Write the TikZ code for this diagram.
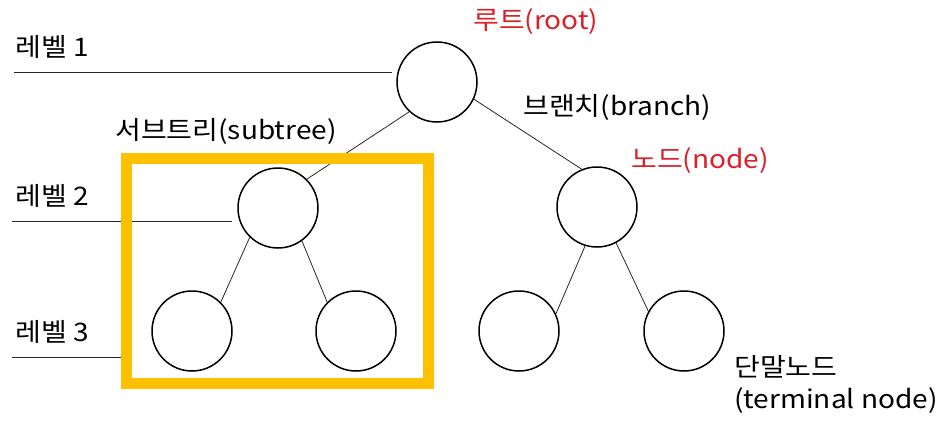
\documentclass[tikz,border=0pt]{standalone}
\usepackage{fontspec}
\setmainfont[FakeStretch=1.1]{Noto Sans CJK KR}
\usetikzlibrary{positioning}
\definecolor{labelred}{RGB}{218,32,40}
\definecolor{boxyellow}{RGB}{255,192,0}
\begin{document}
\begin{tikzpicture}[x=1pt,y=1pt,on grid,
    main node/.style={circle,draw,line width=1.5pt,minimum size=80pt,inner sep=0pt},
    label text/.style={anchor=base west,inner sep=0pt,font=\fontsize{25.5}{30}\selectfont},
    level line/.style={line width=0.9pt,black!85}]

    \useasboundingbox (0,0) rectangle (940,-428);

    % Define vertices
    \node[main node] (1) at (437,-82) {};
    \node[main node] (2) [below left=126pt and 159pt of 1] {};
    \node[main node] (3) [below right=125pt and 160pt of 1] {};
    \node[main node] (4) [below left=123pt and 86pt of 2] {};
    \node[main node] (5) [below right=123pt and 78pt of 2] {};
    \node[main node] (6) [below left=124pt and 78pt of 3] {};
    \node[main node] (7) [below right=124pt and 87pt of 3] {};

    % Draw edges
    \path[draw,line width=0.8pt,black!85]
        (1.-133) edge (2.45)
        (1.-25) edge (3.112)
        (2.-134) edge (4.45)
        (2.-54) edge (5.135)
        (3.-107) edge (6.25)
        (3.-62) edge (7.151);

    % Levels
    \node[label text] (lv1) at (15,-57) {레벨 1};
    \node[label text] (lv2) at (15,-205) {레벨 2};
    \node[label text] (lv3) at (15,-341) {레벨 3};
    \coordinate (l1) at (14,-72);
    \coordinate (l2) at (12,-221);
    \coordinate (l3) at (12,-357);
    \draw[level line] (l1) -- ++(378,0);
    \draw[level line] (l2) -- ++(220,0);
    \draw[level line] (l3) -- ++(112,0);

    % Subtree box
    \coordinate (sw) at (126.5,-383.5);
    \coordinate (ne) at (428,-158.5);
    \draw[boxyellow,line width=11pt] (sw) rectangle (ne);

    % Labels
    \node[label text,text=labelred] (root) at (473,-30) {루트(root)};
    \node[label text] (branch) at (523,-115) {브랜치(branch)};
    \node[label text] (subtree) at (115,-139) {서브트리(subtree)};
    \node[label text,text=labelred] (node) at (631,-168) {노드(node)};
    \node[label text] (term) at (734,-376) {단말노드};
    \node[label text] (terminal) at (734,-408) {(terminal node)};

\end{tikzpicture}
\end{document}
